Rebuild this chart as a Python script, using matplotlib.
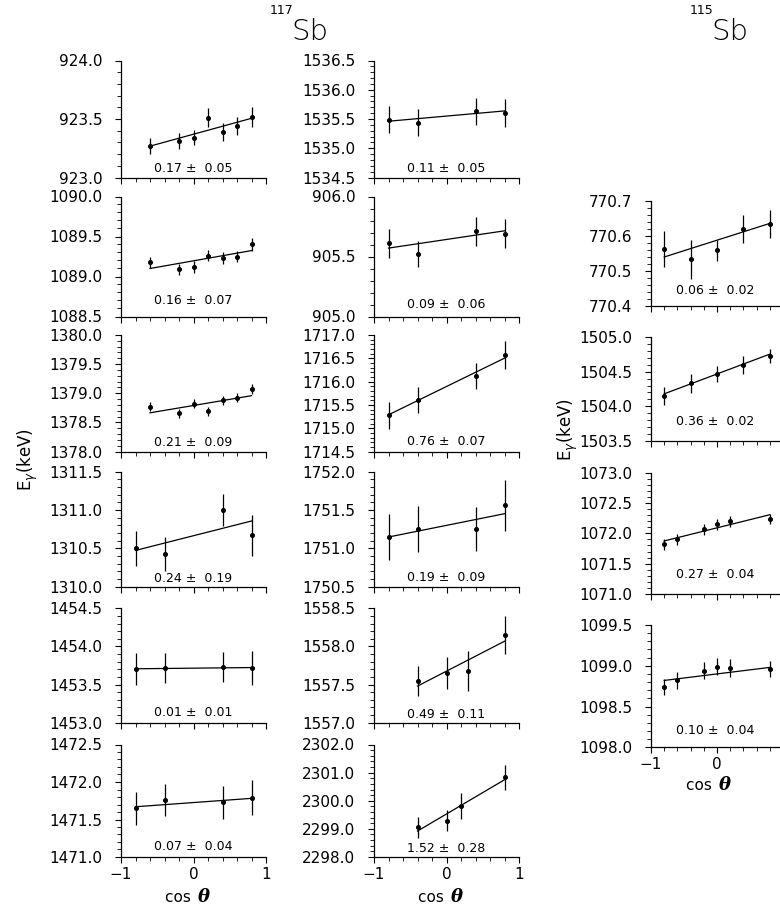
import matplotlib
matplotlib.use('Agg')
import matplotlib.pyplot as plt
from matplotlib.ticker import MultipleLocator, FormatStrFormatter

W, H, DPI = 780, 906, 100

# ---------------- data ----------------
# detector angle sets (cos theta)
cos_a = [-0.6, -0.2, 0.0, 0.2, 0.4, 0.6, 0.8]
cos_b = [-0.8, -0.4, 0.4, 0.8]
cos_c = [-0.4, 0.0, 0.3, 0.8]
cos_d = [-0.4, 0.0, 0.2, 0.8]
cos_e = [-0.8, -0.4, 0.0, 0.4, 0.8]
cos_f = [-0.8, -0.6, -0.2, 0.0, 0.2, 0.8]

# 117Sb, left column
e_923 = [923.27, 923.31, 923.34, 923.51, 923.39, 923.44, 923.52]
d_923 = [0.07, 0.07, 0.065, 0.08, 0.08, 0.075, 0.085]
e_1089 = [1089.18, 1089.09, 1089.12, 1089.26, 1089.23, 1089.25, 1089.40]
d_1089 = [0.07, 0.07, 0.07, 0.067, 0.077, 0.073, 0.083]
e_1379 = [1378.77, 1378.66, 1378.82, 1378.69, 1378.88, 1378.92, 1379.07]
d_1379 = [0.078, 0.078, 0.08, 0.078, 0.08, 0.078, 0.084]
e_1310 = [1310.50, 1310.43, 1311.00, 1310.67]
d_1310 = [0.23, 0.22, 0.21, 0.27]
e_1453 = [1453.70, 1453.72, 1453.73, 1453.72]
d_1453 = [0.21, 0.20, 0.20, 0.22]
e_1471 = [1471.65, 1471.76, 1471.73, 1471.79]
d_1471 = [0.22, 0.21, 0.22, 0.235]

# 117Sb, middle column
e_1535 = [1535.49, 1535.44, 1535.63, 1535.61]
d_1535 = [0.23, 0.226, 0.23, 0.24]
e_905 = [905.61, 905.52, 905.71, 905.69]
d_905 = [0.12, 0.11, 0.12, 0.12]
e_1716 = [1715.28, 1715.60, 1716.12, 1716.58]
d_1716 = [0.29, 0.28, 0.28, 0.30]
e_1751 = [1751.15, 1751.25, 1751.25, 1751.56]
d_1751 = [0.30, 0.30, 0.29, 0.33]
e_1557 = [1557.55, 1557.65, 1557.68, 1558.15]
d_1557 = [0.20, 0.21, 0.26, 0.25]
e_2299 = [2299.06, 2299.29, 2299.82, 2300.84]
d_2299 = [0.37, 0.37, 0.47, 0.44]

# 115Sb, right column
e_770 = [770.563, 770.533, 770.559, 770.62, 770.634]
d_770 = [0.052, 0.055, 0.031, 0.04, 0.04]
e_1504 = [1504.15, 1504.33, 1504.47, 1504.60, 1504.73]
d_1504 = [0.13, 0.14, 0.116, 0.13, 0.10]
e_1072 = [1071.82, 1071.90, 1072.07, 1072.15, 1072.20, 1072.23]
d_1072 = [0.09, 0.09, 0.09, 0.09, 0.09, 0.08]
e_1099 = [1098.74, 1098.82, 1098.94, 1098.99, 1098.97, 1098.96]
d_1099 = [0.10, 0.106, 0.108, 0.108, 0.11, 0.10]

# fitted slopes (as printed) and intercepts at cos theta = 0
slopes = [0.17, 0.16, 0.21, 0.24, 0.01, 0.07,
          0.11, 0.09, 0.76, 0.19, 0.49, 1.52,
          0.06, 0.36, 0.27, 0.10]
slope_err = [0.05, 0.07, 0.09, 0.19, 0.01, 0.04,
             0.05, 0.06, 0.07, 0.09, 0.11, 0.28,
             0.02, 0.02, 0.04, 0.04]
intercepts = [923.37, 1089.196, 1378.79, 1310.665, 1453.715, 1471.726,
              1535.55, 905.642, 1715.895, 1751.30, 1557.676, 2299.53,
              770.588, 1504.468, 1072.09, 1098.90]

# y ranges and tick steps
ylims = [(923.0, 924.0), (1088.5, 1090.0), (1378.0, 1380.0), (1310.0, 1311.5),
         (1453.0, 1454.5), (1471.0, 1472.5),
         (1534.5, 1536.5), (905.0, 906.0), (1714.5, 1717.0), (1750.5, 1752.0),
         (1557.0, 1558.5), (2298.0, 2302.0),
         (770.4, 770.7), (1503.5, 1505.0), (1071.0, 1073.0), (1098.0, 1099.5)]
major_steps = [0.5] * 11 + [1.0] + [0.1, 0.5, 0.5, 0.5]
minor_steps = [0.1] * 11 + [0.2] + [0.02, 0.1, 0.1, 0.1]

xs = [cos_a, cos_a, cos_a, cos_b, cos_b, cos_b,
      cos_b, cos_b, cos_b, cos_b, cos_c, cos_d,
      cos_e, cos_e, cos_f, cos_f]
ys = [e_923, e_1089, e_1379, e_1310, e_1453, e_1471,
      e_1535, e_905, e_1716, e_1751, e_1557, e_2299,
      e_770, e_1504, e_1072, e_1099]
errs = [d_923, d_1089, d_1379, d_1310, d_1453, d_1471,
        d_1535, d_905, d_1716, d_1751, d_1557, d_2299,
        d_770, d_1504, d_1072, d_1099]

x_ticklabels = ['\u22121', '0', '1']
x_ticklabels_cut = ['\u22121', '0', '']

# ---------------- layout (pixels) ----------------
col_lr = {'L': (121, 266), 'M': (374, 519), 'R': (651, 783)}
rows_tb = [(60.5, 177.5), (196.5, 316.5), (335, 451.5), (471.7, 586.7),
           (608.3, 722.7), (744.5, 857)]
rows_r = [(201, 306), (337.3, 440.7), (472.6, 594), (625, 747.3)]

boxes = []
for i in range(6):
    boxes.append(('L',) + rows_tb[i])
for i in range(6):
    boxes.append(('M',) + rows_tb[i])
for i in range(4):
    boxes.append(('R',) + rows_r[i])

text_off = [9, 16, 9, 8, 10, 10,
            9, 12, 10, 9, 8, 9,
            16, 19, 19, 17]
bottom_panels = {5, 11, 15}

FS_TICK = 11
plt.rcParams['font.family'] = ['DejaVu Sans']

fig = plt.figure(figsize=(W / DPI, H / DPI), dpi=DPI)
fig.patch.set_facecolor('white')

def fx(px):
    return px / W

def fy(py):
    return 1 - py / H

for k in range(16):
    col, top, bot = boxes[k]
    l, r = col_lr[col]
    ax = fig.add_axes([fx(l), fy(bot), (r - l) / W, (bot - top) / H])
    x = xs[k]
    y = ys[k]
    ax.errorbar(x, y, yerr=errs[k], fmt='o', ms=2.6, color='black',
                ecolor='black', elinewidth=0.9, capsize=0, zorder=3)
    lx = [x[0], x[-1]]
    ly = [slopes[k] * v + intercepts[k] for v in lx]
    ax.plot(lx, ly, color='black', lw=0.9, zorder=2)
    ax.set_xlim(-1, 1)
    ax.set_ylim(*ylims[k])
    ax.yaxis.set_major_locator(MultipleLocator(major_steps[k]))
    ax.yaxis.set_minor_locator(MultipleLocator(minor_steps[k]))
    ax.yaxis.set_major_formatter(FormatStrFormatter('%.1f'))
    ax.xaxis.set_major_locator(MultipleLocator(1.0))
    ax.xaxis.set_minor_locator(MultipleLocator(0.2))
    for s in ('top', 'right'):
        ax.spines[s].set_visible(False)
    for s in ('left', 'bottom'):
        ax.spines[s].set_linewidth(0.9)
    ax.tick_params(axis='y', which='major', direction='out', length=4.5,
                   width=0.8, pad=9, labelsize=FS_TICK, colors='black')
    ax.tick_params(axis='y', which='minor', direction='out', length=3,
                   width=0.6)
    ax.tick_params(axis='x', which='major', direction='out', length=4,
                   width=0.8, pad=3, labelsize=FS_TICK)
    ax.tick_params(axis='x', which='minor', direction='out', length=3,
                   width=0.6)
    if k in bottom_panels:
        ax.set_xticks([-1, 0, 1])
        ax.set_xticklabels(x_ticklabels_cut if col == 'R' else x_ticklabels)
    else:
        ax.tick_params(axis='x', labelbottom=False)
    ax.set_facecolor('none')
    # fitted slope annotation
    cx = l + (r - l) * 0.5 if col != 'R' else l + 64
    fig.text(fx(cx), fy(bot - text_off[k]),
             '%.2f \u00b1  %.2f' % (slopes[k], slope_err[k]),
             ha='center', va='center', fontsize=9)

# x-axis labels "cos theta"
for cx, cy in [(194, 897), (447, 897), (715, 785)]:
    fig.text(fx(cx + 2), fy(cy), 'cos ', ha='right', va='center', fontsize=11)
    fig.text(fx(cx + 4), fy(cy), '\u03b8', ha='left', va='center', fontsize=13,
             family='DejaVu Serif', weight='bold', style='italic')

# y-axis labels
fig.text(fx(28), fy(460), r'E$_{\gamma}$(keV)', rotation=90, ha='center',
         va='center', fontsize=12)
fig.text(fx(568), fy(430), r'E$_{\gamma}$(keV)', rotation=90, ha='center',
         va='center', fontsize=12)

# isotope titles
for xs_, label in [(270, '117'), (690, '115')]:
    fig.text(fx(xs_), fy(4), label, ha='left', va='top', fontsize=9)
    fig.text(fx(xs_ + 21), fy(40), 'Sb', ha='left', va='baseline', fontsize=21,
             weight='light')

fig.savefig('out.png', dpi=DPI, facecolor='white')
